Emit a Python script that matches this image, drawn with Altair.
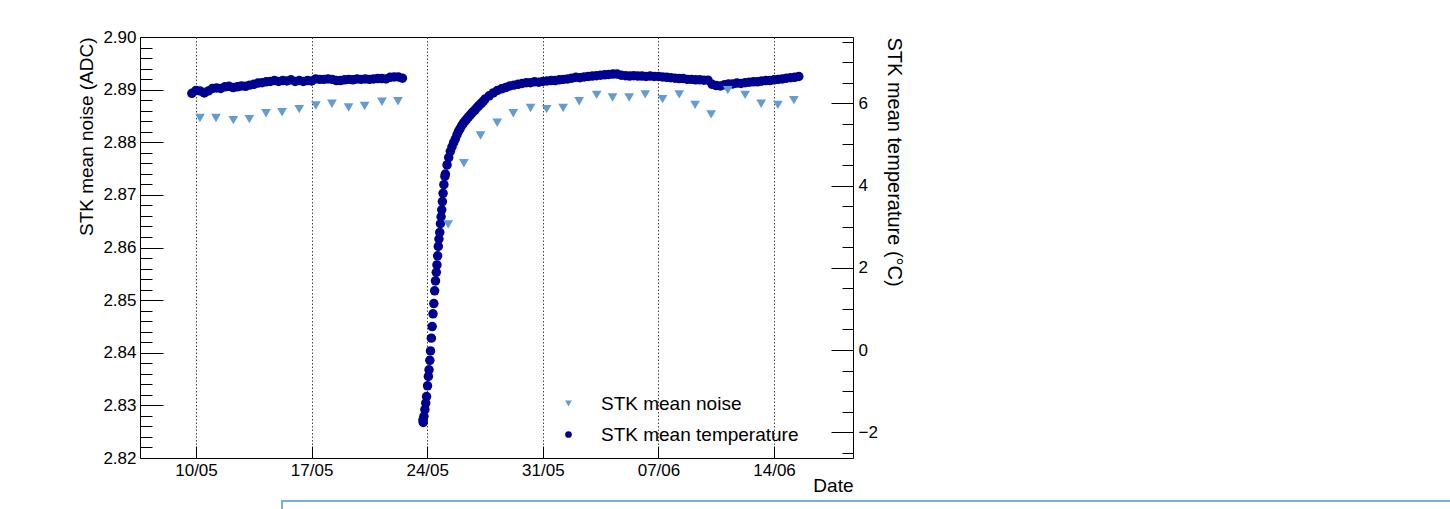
import altair as alt
import pandas as pd

# ---------------- data (days since 10/05 00:00 UTC) ----------------
NOISE = "STK mean noise"
TEMP = "STK mean temperature"

noise_days = [0.24, 1.21, 2.26, 3.23, 4.24, 5.21, 6.25, 7.26, 8.23, 9.24, 10.21, 11.26, 12.23,
              15.27, 16.22, 17.23, 18.24, 19.21, 20.26, 21.23, 22.23, 23.20, 24.26, 25.22,
              26.23, 27.20, 28.25, 29.26, 30.22, 31.19, 32.20, 33.25, 34.22, 35.23, 36.20]
noise_vals = [2.8846, 2.8846, 2.8842, 2.8844, 2.8855, 2.8857, 2.8863, 2.8870, 2.8873, 2.8866,
              2.8869, 2.8877, 2.8878,
              2.8644, 2.8760, 2.8813, 2.8837, 2.8855, 2.8865, 2.8863, 2.8865, 2.8878, 2.8890,
              2.8885, 2.8885, 2.8891, 2.8882, 2.8891, 2.8871, 2.8853, 2.8899, 2.8890, 2.8873,
              2.8871, 2.8880]

temp_days_1 = [-0.25, 0.0, 0.25, 0.5, 0.75, 1.0, 1.25, 1.5, 1.75, 2.0, 2.25, 2.5, 2.75, 3.0,
               3.25, 3.5, 3.75, 4.0, 4.25, 4.5, 4.75, 5.0, 5.25, 5.5, 5.75, 6.0, 6.25, 6.5,
               6.75, 7.0, 7.25, 7.5, 7.75, 8.0, 8.25, 8.5, 8.75, 9.0, 9.25, 9.5, 9.75, 10.0,
               10.25, 10.5, 10.75, 11.0, 11.25, 11.5, 11.75, 12.0, 12.25, 12.5]
temp_vals_1 = [6.24, 6.31, 6.30, 6.25, 6.30, 6.36, 6.37, 6.36, 6.40, 6.41, 6.38, 6.40, 6.42,
               6.41, 6.44, 6.46, 6.49, 6.50, 6.52, 6.53, 6.55, 6.53, 6.55, 6.54, 6.57, 6.53,
               6.55, 6.53, 6.55, 6.54, 6.59, 6.58, 6.58, 6.59, 6.58, 6.55, 6.55, 6.57, 6.58,
               6.57, 6.59, 6.58, 6.59, 6.58, 6.59, 6.60, 6.60, 6.59, 6.63, 6.64, 6.64, 6.61]

temp_days_2 = [13.74, 13.76, 13.80, 13.86, 13.91, 13.96, 14.02, 14.07, 14.11, 14.16, 14.20,
               14.25, 14.30, 14.35, 14.40, 14.45, 14.50, 14.55, 14.59, 14.63, 14.67, 14.71,
               14.76, 14.80, 14.84, 14.88, 14.92, 14.96, 15.01, 15.07,
               15.10, 15.20, 15.30, 15.40, 15.50, 15.60, 15.70, 15.80, 15.90, 16.00, 16.10,
               16.20, 16.30, 16.40, 16.50, 16.60, 16.70, 16.80, 16.90, 17.00, 17.10, 17.20,
               17.30, 17.40, 17.50,
               17.75, 18.00, 18.25, 18.50, 18.75, 19.00, 19.25, 19.50, 19.75, 20.00, 20.25,
               20.50, 20.75, 21.00, 21.25, 21.50, 21.75, 22.00, 22.25, 22.50, 22.75, 23.00,
               23.25, 23.50, 23.75, 24.00, 24.25, 24.50, 24.75, 25.00, 25.25, 25.50, 25.75,
               26.00, 26.25, 26.50, 26.75, 27.00, 27.25, 27.50, 27.75, 28.00, 28.25, 28.50,
               28.75, 29.00, 29.25, 29.50, 29.75, 30.00, 30.25, 30.50, 30.75, 31.00, 31.25,
               31.50, 31.75, 32.00, 32.25, 32.50, 32.75, 33.00, 33.25, 33.50, 33.75, 34.00,
               34.25, 34.50, 34.75, 35.00, 35.25, 35.50, 35.75, 36.00, 36.25, 36.50]
temp_vals_2 = [-1.70, -1.76, -1.61, -1.45, -1.29, -1.13, -0.87, -0.64, -0.48, -0.25, -0.02,
               0.29, 0.57, 0.88, 1.13, 1.44, 1.68, 1.89, 2.07, 2.29, 2.52, 2.70,
               2.86, 3.07, 3.24, 3.41, 3.61, 3.81, 4.02, 4.22,
               4.28, 4.50, 4.68, 4.83, 4.94, 5.04, 5.13, 5.23, 5.32, 5.39, 5.46,
               5.52, 5.57, 5.62, 5.67, 5.71, 5.76, 5.80, 5.84, 5.89, 5.93, 5.97,
               6.01, 6.05, 6.10,
               6.18, 6.25, 6.31, 6.35, 6.38, 6.42, 6.44, 6.46, 6.48, 6.50, 6.50,
               6.52, 6.51, 6.53, 6.54, 6.55, 6.55, 6.57, 6.58, 6.59, 6.61, 6.63,
               6.62, 6.64, 6.65, 6.66, 6.67, 6.68, 6.69, 6.70, 6.71, 6.71, 6.68,
               6.67, 6.66, 6.67, 6.66, 6.66, 6.65, 6.66, 6.65, 6.65, 6.64, 6.63,
               6.62, 6.61, 6.60, 6.60, 6.58, 6.58, 6.57, 6.57, 6.56, 6.56, 6.46,
               6.43, 6.42, 6.45, 6.47, 6.47, 6.49, 6.48, 6.50, 6.51, 6.52, 6.52,
               6.54, 6.55, 6.55, 6.57, 6.58, 6.59, 6.61, 6.62, 6.63, 6.65]

x_tick_days = [0, 7, 14, 21, 28, 35]
x_range_days = [-3.39, 39.78]
noise_major = [2.82, 2.83, 2.84, 2.85, 2.86, 2.87, 2.88, 2.89, 2.90]
temp_major = [-2, 0, 2, 4, 6]
temp_minor = [-2.5, -1.5, -1, -0.5, 0.5, 1, 1.5, 2.5, 3, 3.5, 4.5, 5, 5.5, 6.5, 7, 7.5]

# ---------------- helpers ----------------
BASE = pd.Timestamp("2016-05-10 00:00:00")


def iso(days):
    return [(BASE + pd.Timedelta(days=d)).strftime("%Y-%m-%dT%H:%M:%SZ") for d in days]


def ms(d):
    return (BASE + pd.Timedelta(days=d)).timestamp() * 1000.0


noise_minor = [round(2.82 + 0.002 * i, 3) for i in range(41) if i % 5 != 0]

noise_df = pd.DataFrame({"date": iso(noise_days), "noise": noise_vals, "series": NOISE})
temp_df = pd.DataFrame({"date": iso(temp_days_1 + temp_days_2),
                        "temp": temp_vals_1 + temp_vals_2, "series": TEMP})

FONT = "Liberation Sans"
X_DOM = [ms(x_range_days[0]), ms(x_range_days[1])]
X_TICKS = [ms(d) for d in x_tick_days]
Y_NOISE = alt.Scale(domain=[2.82, 2.90], nice=False, zero=False)
Y_TEMP = alt.Scale(domain=[-2.624, 7.61], nice=False, zero=False)
X_SCALE = alt.Scale(type="utc", domain=X_DOM, nice=False)

LBL = dict(labelFont=FONT, labelFontSize=17, labelColor="black")
TTL = dict(titleFont=FONT, titleFontSize=19, titleFontWeight="normal", titleColor="black")

legend = alt.Legend(title=None, orient="none", legendX=419, legendY=357, padding=0,
                    symbolSize=45, symbolStrokeWidth=0, symbolOpacity=1,
                    labelFont=FONT, labelFontSize=19, labelColor="black", labelLimit=400,
                    labelOffset=23, rowPadding=11)
color = alt.Color("series:N", scale=alt.Scale(domain=[NOISE, TEMP], range=["#639cd2", "#00008f"]),
                  legend=legend)
shape = alt.Shape("series:N", scale=alt.Scale(domain=[NOISE, TEMP], range=["triangle-down", "circle"]),
                  legend=legend)

x_main = alt.X("date:T", scale=X_SCALE,
               axis=alt.Axis(values=X_TICKS, labelExpr="utcFormat(datum.value, '%d/%m')",
                             title="Date", titleAnchor="end", titleAlign="right", titlePadding=-2,
                             ticks=False, tickSize=0, domain=False, labelPadding=4,
                             grid=True, gridDash=[1.5, 2], gridColor="#444", gridWidth=1,
                             **LBL, **TTL))
x_none = alt.X("date:T", scale=X_SCALE, axis=None)

temp_layer = alt.Chart(temp_df).mark_point(filled=True, size=90, opacity=1, strokeWidth=0).encode(
    x=x_none,
    y=alt.Y("temp:Q", scale=Y_TEMP,
            axis=alt.Axis(orient="right", values=temp_major, ticks=False, tickSize=0, domain=False,
                          labelPadding=5, grid=False, title="STK mean temperature (°C)",
                          titleAnchor="end", titleAngle=90, titleAlign="left", titlePadding=6,
                          labelFont=FONT, labelFontSize=17, labelColor="black",
                          titleFont=FONT, titleFontSize=20, titleFontWeight="normal",
                          titleColor="black")),
    color=color, shape=shape)

noise_layer = alt.Chart(noise_df).mark_point(filled=True, size=95, opacity=1, strokeWidth=0).encode(
    x=x_main,
    y=alt.Y("noise:Q", scale=Y_NOISE,
            axis=alt.Axis(orient="left", values=noise_major, format=".2f", ticks=False, tickSize=0,
                          domain=False, labelPadding=4, grid=False,
                          title="STK mean noise (ADC)", titleAnchor="end", titleAngle=-90,
                          titlePadding=6, **LBL, **TTL)),
    color=color, shape=shape)


def tick_axis(orient, values, size):
    return alt.Axis(orient=orient, values=values, offset=-size, tickSize=size, ticks=True,
                    labels=False, domain=False, grid=False, title=None,
                    tickColor="black", tickWidth=1)


left_major = alt.Chart(noise_df).mark_point(opacity=0).encode(
    x=alt.X("date:T", scale=X_SCALE, axis=tick_axis("bottom", X_TICKS, 12)),
    y=alt.Y("noise:Q", scale=Y_NOISE, axis=tick_axis("left", noise_major, 23)))
left_minor = alt.Chart(noise_df).mark_point(opacity=0).encode(
    x=x_none, y=alt.Y("noise:Q", scale=Y_NOISE, axis=tick_axis("left", noise_minor, 12)))
right_major = alt.Chart(temp_df).mark_point(opacity=0).encode(
    x=x_none, y=alt.Y("temp:Q", scale=Y_TEMP, axis=tick_axis("right", temp_major, 22)))
right_minor = alt.Chart(temp_df).mark_point(opacity=0).encode(
    x=x_none, y=alt.Y("temp:Q", scale=Y_TEMP, axis=tick_axis("right", temp_minor, 11)))

box = alt.Chart(pd.DataFrame({"a": [0]})).mark_rect(fillOpacity=0, stroke="#7aaee2", strokeWidth=2).encode(
    x=alt.value(142), x2=alt.value(1330), y=alt.value(464), y2=alt.value(520))

chart = alt.layer(temp_layer, noise_layer, left_major, left_minor, right_major, right_minor, box).resolve_scale(
    x="independent", y="independent"
).properties(
    width=713, height=421,
    background="white",
    autosize=alt.AutoSizeParams(type="none"),
    padding={"left": 140, "top": 37, "right": 597, "bottom": 51},
).configure_view(
    stroke="black", strokeWidth=1
)

chart.save("out.html", embed_options={"renderer": "svg", "actions": False})
